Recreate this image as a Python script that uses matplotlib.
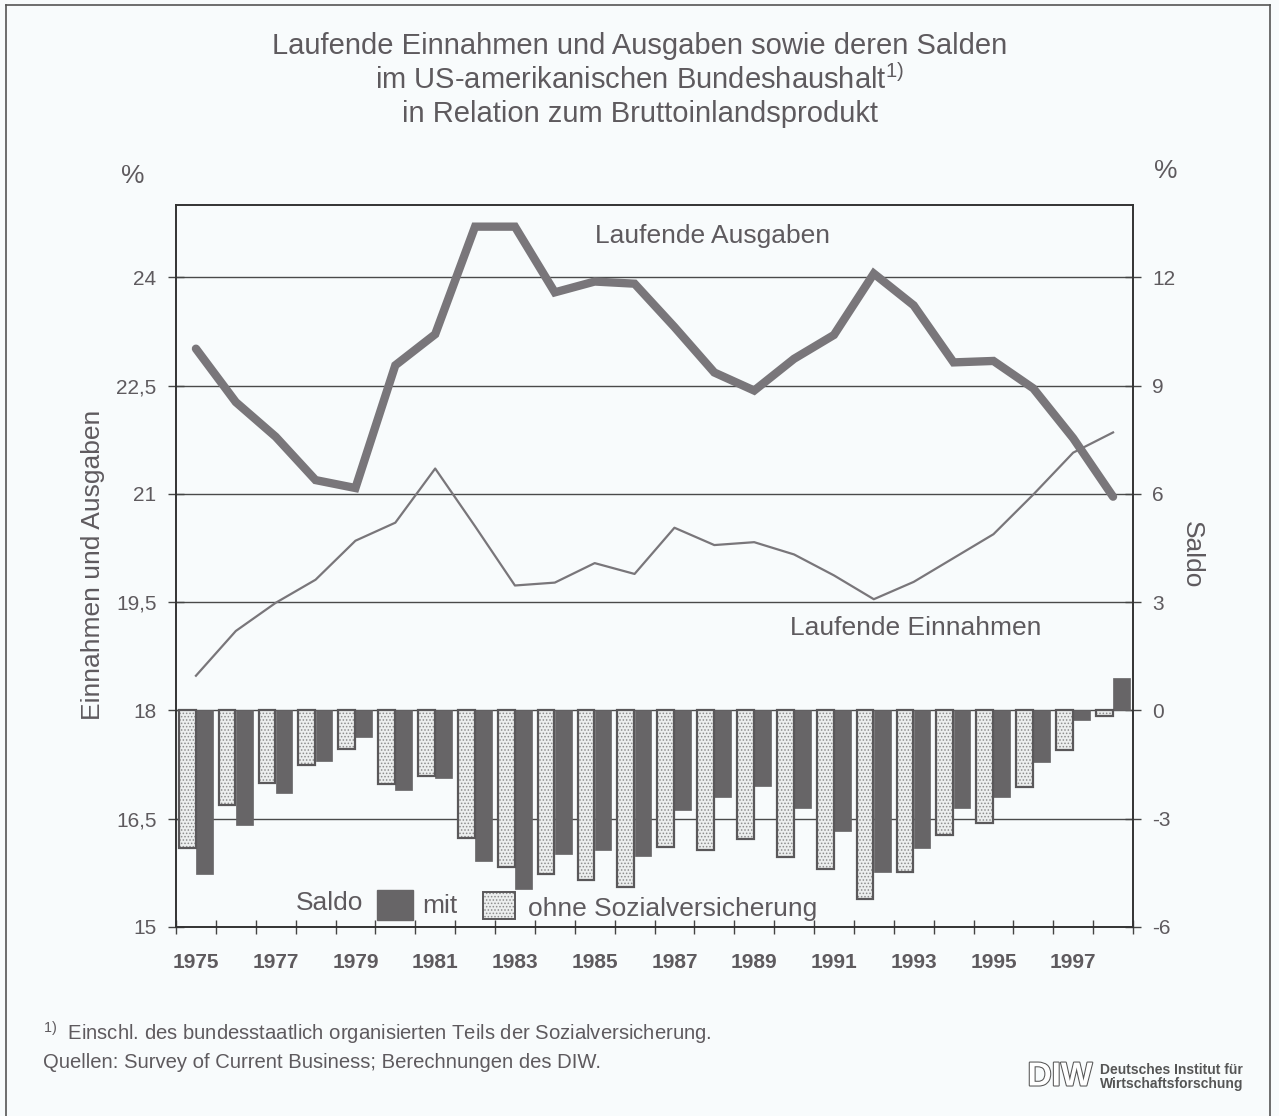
import matplotlib
matplotlib.use('Agg')
import matplotlib.pyplot as plt
from matplotlib.patches import Rectangle
from matplotlib.lines import Line2D
import matplotlib.patheffects as pe

plt.rcParams['font.family'] = ['Liberation Sans', 'DejaVu Sans']
plt.rcParams['mathtext.fontset'] = 'custom'
plt.rcParams['mathtext.rm'] = 'Liberation Sans'
plt.rcParams['hatch.linewidth'] = 0.7

# Daten
jahre = list(range(1975, 1999))
ausgaben = [23.01, 22.27, 21.79, 21.19, 21.08, 22.78, 23.21, 24.70, 24.70, 23.79, 23.94, 23.91,
            23.31, 22.68, 22.43, 22.87, 23.20, 24.05, 23.61, 22.82, 22.84, 22.46, 21.77, 20.96]
einnahmen = [18.48, 19.10, 19.49, 19.81, 20.35, 20.60, 21.35, 20.55, 19.73, 19.77, 20.04, 19.89,
             20.53, 20.29, 20.33, 20.16, 19.87, 19.54, 19.78, 20.11, 20.44, 20.99, 21.57, 21.85]
saldo_mit = [-4.53, -3.17, -2.28, -1.40, -0.74, -2.20, -1.87, -4.16, -4.94, -3.99, -3.88, -4.02,
             -2.77, -2.40, -2.10, -2.70, -3.33, -4.48, -3.81, -2.70, -2.40, -1.43, -0.27, 0.91]
saldo_ohne = [-3.81, -2.61, -2.00, -1.52, -1.08, -2.03, -1.81, -3.53, -4.34, -4.53, -4.69, -4.90,
              -3.79, -3.86, -3.56, -4.07, -4.38, -5.23, -4.47, -3.46, -3.12, -2.12, -1.10, -0.16]

links_ticks = [15, 16.5, 18, 19.5, 21, 22.5, 24]
links_labels = ['15', '16,5', '18', '19,5', '21', '22,5', '24']
rechts_ticks = [-6, -3, 0, 3, 6, 9, 12]
x_ticks = list(range(1975, 1998, 2))

bg = '#f8fbfc'
txt = '#5e5a5e'
linie = '#79767a'
dunkel = '#676567'

fig = plt.figure(figsize=(12.79, 11.16), dpi=100, facecolor=bg)
ax = fig.add_axes([176 / 1279, 1 - 927 / 1116, 957 / 1279, 722 / 1116])
ax.set_facecolor(bg)
ax2 = ax.twinx()

ax.set_xlim(1974.5, 1998.5)
ax.set_ylim(15, 25)
ax2.set_ylim(-6, 14)

ax.set_yticks(links_ticks)
ax.set_yticklabels(links_labels)
ax2.set_yticks(rechts_ticks)
ax2.set_yticklabels([str(t) for t in rechts_ticks])
for t in links_ticks:
    ax.axhline(t, color='#4a4a4a', lw=1.0, zorder=0)

ax.set_xticks(x_ticks)
ax.set_xticklabels([str(j) for j in x_ticks], fontweight='bold')
ax.set_xticks([j + 0.5 for j in range(1974, 1999)], minor=True)
ax.tick_params(axis='x', which='major', length=0, pad=19, labelsize=15, labelcolor=txt)
ax.tick_params(axis='x', which='minor', direction='inout', length=10, width=1, color='#444')
ax.tick_params(axis='y', direction='inout', length=12, width=1, color='#444', labelsize=15,
               labelcolor=txt, pad=8)
ax2.tick_params(axis='y', direction='inout', length=12, width=1, color='#444', labelsize=15,
                labelcolor=txt, pad=8)
for a in (ax, ax2):
    for s in a.spines.values():
        s.set_color('#333')
        s.set_linewidth(1.2)

ax.plot(jahre, ausgaben, color=linie, lw=6, solid_joinstyle='miter', solid_capstyle='round')
ax.plot(jahre, einnahmen, color=linie, lw=1.6)

b = 0.42
x_ohne = [j - 0.22 for j in jahre]
x_mit = [j + 0.21 for j in jahre]
ax2.bar(x_ohne, saldo_ohne, width=b, color='#eceeee', hatch='.....', edgecolor='#8c8c8c',
        linewidth=0, zorder=2)
ax2.bar(x_ohne, saldo_ohne, width=b, fill=False, edgecolor='#5a585a', linewidth=1.6, zorder=3)
ax2.bar(x_mit, saldo_mit, width=b, color=dunkel, edgecolor=dunkel, linewidth=0.5, zorder=2)

ax.text(1987.95, 24.57, 'Laufende Ausgaben', fontsize=19, color=txt, ha='center', va='center')
ax.text(1993.05, 19.14, 'Laufende Einnahmen', fontsize=19, color=txt, ha='center', va='center')

# Legende
ax2.text(0.1254, 0.033, 'Saldo', transform=ax2.transAxes, fontsize=19, color=txt, va='center')
ax2.add_patch(Rectangle((0.210, 0.010), 0.0376, 0.0416, transform=ax2.transAxes,
                        facecolor=dunkel, edgecolor=dunkel, zorder=4))
ax2.text(0.257, 0.029, 'mit', transform=ax2.transAxes, fontsize=19, color=txt, va='center')
ax2.add_patch(Rectangle((0.3208, 0.011), 0.0334, 0.038, transform=ax2.transAxes,
                        facecolor='#eceeee', hatch='.....', edgecolor='#8c8c8c', lw=0, zorder=4))
ax2.add_patch(Rectangle((0.3208, 0.011), 0.0334, 0.038, transform=ax2.transAxes,
                        fill=False, edgecolor='#5a585a', lw=1.4, zorder=5))
ax2.text(0.3678, 0.025, 'ohne Sozialversicherung', transform=ax2.transAxes, fontsize=19,
         color=txt, va='center')

# Titel und Achsenbeschriftung
fig.text(640 / 1279, 1 - 46 / 1116, 'Laufende Einnahmen und Ausgaben sowie deren Salden',
         fontsize=21, color=txt, ha='center', va='center')
fig.text(640 / 1279, 1 - 80 / 1116, 'im US-amerikanischen Bundeshaushalt$^{\\mathrm{1)}}$',
         fontsize=21, color=txt, ha='center', va='center')
fig.text(640 / 1279, 1 - 114 / 1116, 'in Relation zum Bruttoinlandsprodukt',
         fontsize=21, color=txt, ha='center', va='center')
fig.text(133 / 1279, 1 - 176 / 1116, '%', fontsize=19, color=txt, ha='center', va='center')
fig.text(1166 / 1279, 1 - 171 / 1116, '%', fontsize=19, color=txt, ha='center', va='center')
fig.text(93 / 1279, 1 - 565 / 1116, 'Einnahmen und Ausgaben', fontsize=19, color=txt,
         rotation=90, ha='center', va='center')
fig.text(1192 / 1279, 1 - 555 / 1116, 'Saldo', fontsize=19, color=txt,
         rotation=270, ha='center', va='center')

# Fussnoten
fig.text(43 / 1279, 1 - 1033 / 1116,
         '$^{\\mathrm{1)}}$  Einschl. des bundesstaatlich organisierten Teils der Sozialversicherung.',
         fontsize=14.6, color=txt, ha='left', va='center')
fig.text(43 / 1279, 1 - 1063 / 1116, 'Quellen: Survey of Current Business; Berechnungen des DIW.',
         fontsize=14.6, color=txt, ha='left', va='center')

# DIW Logo
fig.text(1060 / 1279, 1 - 1077 / 1116, 'DIW', fontsize=24, fontweight='bold', color='white',
         ha='center', va='center',
         path_effects=[pe.withStroke(linewidth=1.5, foreground='#555')])
fig.text(1100 / 1279, 1 - 1077 / 1116, 'Deutsches Institut für\nWirtschaftsforschung',
         fontsize=10, fontweight='bold', color='#555', ha='left', va='center', linespacing=0.95)

# Rahmen
fig.add_artist(Line2D([6 / 1279, 6 / 1279], [0, 1 - 5 / 1116], color='#555', lw=1.2))
fig.add_artist(Line2D([1270 / 1279, 1270 / 1279], [0, 1 - 5 / 1116], color='#555', lw=1.2))
fig.add_artist(Line2D([6 / 1279, 1270 / 1279], [1 - 5 / 1116, 1 - 5 / 1116], color='#555', lw=1.2))

fig.savefig('out.png', dpi=100, facecolor=bg)
